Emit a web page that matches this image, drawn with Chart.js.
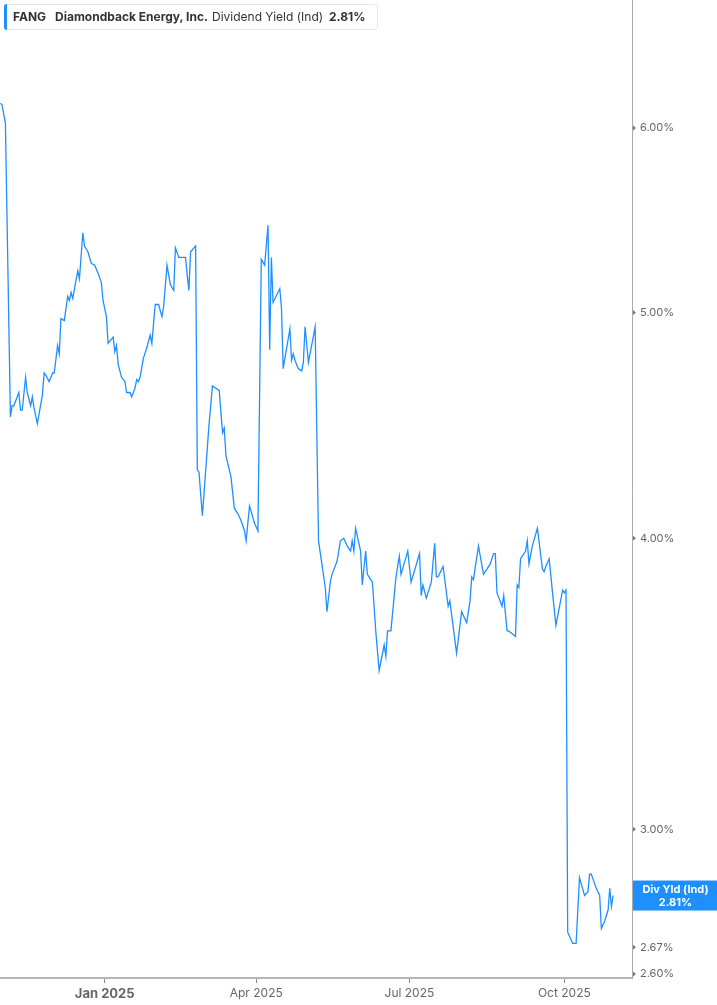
<!DOCTYPE html>
<html>
<head>
<meta charset="utf-8">
<script src="https://cdn.jsdelivr.net/npm/chart.js@4/dist/chart.umd.min.js"></script>
<style>
  html, body { margin: 0; padding: 0; background: #fff; }
  #wrap { position: relative; width: 717px; height: 1005px; }
  #head {
    position: absolute; left: 4px; top: 4px; height: 24px; width: 372px;
    border: 1px solid #e6e6e6; border-radius: 3px; background: #fff;
    font-family: Inter, "Noto Sans", sans-serif; font-size: 12px; color: #333;
    line-height: 24px; white-space: nowrap; box-sizing: content-box;
  }
  #head .bar { position: absolute; left: -1px; top: -1px; bottom: -1px; width: 3px; background: #1e90ff; border-radius: 3px 0 0 3px; }
  #head span { position: absolute; top: 0; }
  #head b { font-weight: 700; }
</style>
</head>
<body>
<div id="wrap">
  <canvas id="chart" width="717" height="1005"></canvas>
  <div id="head">
    <div class="bar"></div>
    <span style="left:8px"><b>FANG</b></span>
    <span style="left:50px"><b>Diamondback Energy, Inc.</b></span>
    <span style="left:207px">Dividend Yield (Ind)</span>
    <span style="left:324px"><b>2.81%</b></span>
  </div>
</div>
<script>
// dividend yield (%), one entry per date
const dates = [
  "2024-10-31","2024-11-01","2024-11-03","2024-11-06","2024-11-07","2024-11-08","2024-11-11","2024-11-12","2024-11-13","2024-11-15",
  "2024-11-16","2024-11-18","2024-11-19","2024-11-20","2024-11-22","2024-11-25","2024-11-26","2024-11-27","2024-11-29","2024-12-01",
  "2024-12-02","2024-12-04","2024-12-05","2024-12-06","2024-12-08","2024-12-10","2024-12-11","2024-12-12","2024-12-13","2024-12-16",
  "2024-12-17","2024-12-19","2024-12-20","2024-12-22","2024-12-24","2024-12-26","2024-12-28","2024-12-30","2024-12-31","2025-01-02",
  "2025-01-03","2025-01-06","2025-01-07","2025-01-08","2025-01-09","2025-01-11","2025-01-13","2025-01-14","2025-01-16","2025-01-17",
  "2025-01-19","2025-01-20","2025-01-21","2025-01-22","2025-01-24","2025-01-26","2025-01-28","2025-01-29","2025-01-31","2025-02-02",
  "2025-02-04","2025-02-05","2025-02-07","2025-02-08","2025-02-09","2025-02-11","2025-02-12","2025-02-14","2025-02-18","2025-02-19",
  "2025-02-20","2025-02-21","2025-02-24","2025-02-25","2025-02-26","2025-02-28","2025-03-04","2025-03-06","2025-03-10","2025-03-12",
  "2025-03-13","2025-03-14","2025-03-17","2025-03-19","2025-03-21","2025-03-23","2025-03-25","2025-03-26","2025-03-28","2025-03-31",
  "2025-04-02","2025-04-04","2025-04-06","2025-04-08","2025-04-09","2025-04-10","2025-04-11","2025-04-15","2025-04-16","2025-04-17",
  "2025-04-21","2025-04-22","2025-04-23","2025-04-24","2025-04-26","2025-04-28","2025-04-29","2025-04-30","2025-05-02","2025-05-06",
  "2025-05-08","2025-05-10","2025-05-12","2025-05-13","2025-05-15","2025-05-16","2025-05-19","2025-05-21","2025-05-23","2025-05-25",
  "2025-05-27","2025-05-28","2025-05-29","2025-05-30","2025-06-02","2025-06-03","2025-06-05","2025-06-06","2025-06-09","2025-06-11",
  "2025-06-13","2025-06-16","2025-06-17","2025-06-18","2025-06-20","2025-06-23","2025-06-25","2025-06-26","2025-06-30","2025-07-02",
  "2025-07-07","2025-07-08","2025-07-09","2025-07-11","2025-07-14","2025-07-16","2025-07-17","2025-07-18","2025-07-21","2025-07-24",
  "2025-07-25","2025-07-29","2025-08-01","2025-08-04","2025-08-06","2025-08-07","2025-08-08","2025-08-11","2025-08-14","2025-08-18",
  "2025-08-20","2025-08-21","2025-08-22","2025-08-25","2025-08-26","2025-08-28","2025-08-29","2025-09-02","2025-09-03","2025-09-04",
  "2025-09-05","2025-09-08","2025-09-09","2025-09-10","2025-09-12","2025-09-15","2025-09-18","2025-09-19","2025-09-20","2025-09-22",
  "2025-09-24","2025-09-26","2025-09-30","2025-10-01","2025-10-02","2025-10-03","2025-10-06","2025-10-08","2025-10-10","2025-10-13",
  "2025-10-15","2025-10-16","2025-10-17","2025-10-20","2025-10-22","2025-10-23","2025-10-25","2025-10-27","2025-10-28","2025-10-29",
  "2025-10-30"
];
const yields = [
  6.15,6.14,6.03,4.51,4.56,4.56,4.62,4.54,4.54,4.69,
  4.62,4.56,4.60,4.55,4.48,4.61,4.71,4.70,4.67,4.71,
  4.71,4.84,4.80,4.97,4.96,5.08,5.06,5.10,5.07,5.21,
  5.17,5.41,5.34,5.31,5.25,5.24,5.20,5.15,5.06,4.98,
  4.85,4.88,4.81,4.84,4.75,4.69,4.67,4.62,4.62,4.60,
  4.64,4.68,4.67,4.69,4.78,4.83,4.89,4.85,5.04,5.04,
  4.98,5.03,5.24,5.19,5.14,5.11,5.33,5.28,5.28,5.19,
  5.11,5.31,5.34,4.28,4.27,4.09,4.48,4.65,4.63,4.44,
  4.46,4.34,4.25,4.12,4.10,4.07,4.03,3.99,4.13,4.06,
  4.03,5.27,5.24,5.45,4.82,5.28,5.05,5.12,5.02,4.73,
  4.92,4.77,4.80,4.77,4.73,4.72,4.76,4.93,4.76,4.93,
  3.99,3.90,3.81,3.72,3.83,3.86,3.91,3.99,4.00,3.97,
  3.95,3.99,3.95,4.04,3.95,3.82,3.95,3.86,3.83,3.65,
  3.51,3.60,3.56,3.65,3.65,3.85,3.93,3.86,3.95,3.83,
  3.94,3.78,3.82,3.77,3.83,3.98,3.85,3.85,3.89,3.74,
  3.76,3.57,3.72,3.68,3.76,3.85,3.84,3.97,3.86,3.90,
  3.94,3.94,3.79,3.74,3.78,3.65,3.65,3.63,3.82,3.81,
  3.92,3.95,3.99,3.90,3.97,4.04,3.88,3.87,3.89,3.92,
  3.79,3.67,3.80,3.79,3.80,2.71,2.68,2.68,2.86,2.81,
  2.82,2.87,2.87,2.83,2.81,2.72,2.74,2.77,2.83,2.78,
  2.81
];

const xTickDates = ["2025-01-01", "2025-04-01", "2025-07-01", "2025-10-01"];
const xTickLabels = ["Jan 2025", "Apr 2025", "Jul 2025", "Oct 2025"];
const yTickValues = [2.60, 2.67, 3.00, 4.00, 5.00, 6.00];
const lastLabel = ["Div Yld (Ind)", "2.81%"];

// days since 2025-01-01
function dayNum(s) {
    const p = s.split("-").map(Number);
    return (Date.UTC(p[0], p[1] - 1, p[2]) - Date.UTC(2025, 0, 1)) / 864e5;
}

const points = dates.map((d, i) => ({ x: dayNum(d), y: yields[i] }));
const BLUE = "#1e8fff";
const FONT = "Inter, 'Noto Sans', sans-serif";

const extras = {
    id: "extras",
    afterDraw(chart) {
        const ctx = chart.ctx;
        const y = chart.scales.y;
        const edge = chart.chartArea.right;
        // little arrow marks on the right axis
        ctx.save();
        ctx.fillStyle = "#777";
        yTickValues.forEach(v => {
            const py = y.getPixelForValue(v);
            ctx.beginPath();
            ctx.moveTo(edge + 1, py - 2.5);
            ctx.lineTo(edge + 4, py);
            ctx.lineTo(edge + 1, py + 2.5);
            ctx.fill();
        });
        // last value box
        const py = y.getPixelForValue(yields[yields.length - 1]);
        ctx.fillStyle = BLUE;
        ctx.fillRect(edge + 1, py - 15, chart.width - edge - 1, 30);
        ctx.fillStyle = "#fff";
        ctx.font = "bold 11px " + FONT;
        ctx.textAlign = "center";
        ctx.textBaseline = "middle";
        const cx = (edge + chart.width) / 2 + 1;
        ctx.fillText(lastLabel[0], cx, py - 6);
        ctx.fillText(lastLabel[1], cx, py + 7);
        ctx.restore();
    }
};

new Chart(document.getElementById("chart").getContext("2d"), {
    type: "line",
    data: {
        datasets: [{
            data: points,
            borderColor: BLUE,
            borderWidth: 1.3,
            pointRadius: 0,
            tension: 0,
            fill: false
        }]
    },
    options: {
        responsive: false,
        animation: false,
        layout: { padding: 0 },
        plugins: { legend: { display: false }, tooltip: { enabled: false } },
        scales: {
            x: {
                type: "linear",
                min: dayNum("2024-10-30") + 0.8,
                max: dayNum("2025-11-10") + 0.2,
                afterBuildTicks: s => { s.ticks = xTickDates.map(d => ({ value: dayNum(d) })); },
                afterFit: s => { s.height = 27; s.paddingLeft = 0; s.paddingRight = 0; },
                grid: { drawOnChartArea: false, drawTicks: true, tickLength: 5, color: "#888", lineWidth: 1 },
                border: { display: true, color: "#b5b5b5", width: 2 },
                ticks: {
                    autoSkip: false,
                    maxRotation: 0,
                    padding: 3,
                    color: "#666",
                    font: c => (c.index === 0
                        ? { family: FONT, size: 13, weight: "bold" }
                        : { family: FONT, size: 12 }),
                    callback: (v, i) => xTickLabels[i]
                }
            },
            y: {
                type: "logarithmic",
                position: "right",
                min: 2.59,
                max: 6.81,
                afterBuildTicks: s => { s.ticks = yTickValues.map(v => ({ value: v })); },
                afterFit: s => { s.width = 85; s.paddingTop = 0; s.paddingBottom = 0; },
                grid: { display: false, drawTicks: false },
                border: { display: true, color: "#aaa", width: 1 },
                ticks: {
                    padding: 8,
                    color: "#666",
                    font: { family: FONT, size: 11 },
                    callback: v => v.toFixed(2) + "%"
                }
            }
        }
    },
    plugins: [extras]
});
</script>
</body>
</html>
